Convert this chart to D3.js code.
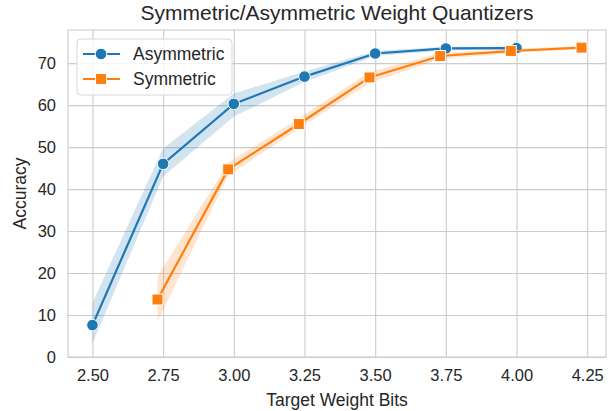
<!DOCTYPE html>
<html lang="en">
<head>
<meta charset="UTF-8">
<title>Symmetric/Asymmetric Weight Quantizers</title>
<style>
  body { margin: 0; background: #fff; }
  svg { font-family: "Liberation Sans", Arial, sans-serif; }
  .tick text { fill: #262626; font-size: 16.5px; }
</style>
</head>
<body>
<svg height="411" width="613"></svg>

<script src="https://cdn.jsdelivr.net/npm/d3@7"></script>
<script>

// data
var asymBits = [2.50, 2.75, 3.00, 3.25, 3.50, 3.75, 4.00];
var asymAcc  = [7.6, 46.0, 60.3, 66.8, 72.3, 73.5, 73.6];
var asymLow  = [3.2, 43.0, 57.3, 65.5, 71.7, 73.1, 73.2];
var asymHigh = [12.9, 49.7, 62.8, 68.0, 72.9, 73.9, 74.0];

var symBits = [2.73, 2.98, 3.23, 3.48, 3.73, 3.98, 4.23];
var symAcc  = [13.7, 44.7, 55.5, 66.6, 71.7, 72.9, 73.7];
var symLow  = [8.4, 43.2, 54.4, 65.2, 71.0, 72.4, 73.3];
var symHigh = [19.1, 46.3, 56.9, 67.9, 72.4, 73.4, 74.1];

var xTicks = [2.50, 2.75, 3.00, 3.25, 3.50, 3.75, 4.00, 4.25];
var yTicks = [0, 10, 20, 30, 40, 50, 60, 70];

var series = [
    {name: "Asymmetric", color: "#1f77b4", marker: "circle", x: asymBits, y: asymAcc, lo: asymLow, hi: asymHigh},
    {name: "Symmetric", color: "#ff7f0e", marker: "square", x: symBits, y: symAcc, lo: symLow, hi: symHigh}
];

var svg = d3.select("svg"),
    margin = {top: 30, right: 7, bottom: 54, left: 68};

var width = +svg.attr("width") - margin.left - margin.right;
var height = +svg.attr("height") - margin.top - margin.bottom;

var bitsToX = d3.scaleLinear().domain([2.4135, 4.3165]).range([0, width]);
var accToY = d3.scaleLinear().domain([0, 77.9]).range([height, 0]);

var g = svg.append("g")
    .attr("transform", "translate(" + margin.left + "," + margin.top + ")");

// grid
g.append("g")
    .attr("class", "x grid")
    .attr("transform", "translate(0," + height + ")")
    .call(d3.axisBottom(bitsToX).tickValues(xTicks).tickSize(-height).tickFormat(d3.format(".2f")).tickPadding(12))
    .call(function(a) {
        a.select(".domain").remove();
        a.selectAll(".tick line").attr("stroke", "#cccccc").attr("stroke-width", 1.1);
    });

g.append("g")
    .attr("class", "y grid")
    .call(d3.axisLeft(accToY).tickValues(yTicks).tickSize(-width).tickPadding(12))
    .call(function(a) {
        a.select(".domain").remove();
        a.selectAll(".tick line").attr("stroke", "#cccccc").attr("stroke-width", 1.1);
    });

// frame
g.append("rect")
    .attr("width", width)
    .attr("height", height)
    .attr("fill", "none")
    .attr("stroke", "#cccccc")
    .attr("stroke-width", 1.1);

var band = d3.area()
    .x(function(d) { return bitsToX(d.x); })
    .y0(function(d) { return accToY(d.lo); })
    .y1(function(d) { return accToY(d.hi); });

var line = d3.line()
    .x(function(d) { return bitsToX(d.x); })
    .y(function(d) { return accToY(d.y); });

function points(s) {
    return s.x.map(function(x, i) {
        return {x: x, y: s.y[i], lo: s.lo[i], hi: s.hi[i]};
    });
}

series.forEach(function(s) {
    var pts = points(s);
    g.append("path")
        .datum(pts)
        .attr("d", band)
        .attr("fill", s.color)
        .attr("fill-opacity", 0.2);
});

series.forEach(function(s) {
    var pts = points(s);
    g.append("path")
        .datum(pts)
        .attr("d", line)
        .attr("fill", "none")
        .attr("stroke", s.color)
        .attr("stroke-width", 2.2);

    var sym = s.marker == "circle" ? d3.symbolCircle : d3.symbolSquare;
    var size = s.marker == "circle" ? 105 : 120;
    g.selectAll(".m-" + s.marker)
        .data(pts)
        .enter()
        .append("path")
        .attr("class", "m-" + s.marker)
        .attr("transform", function(d) { return "translate(" + bitsToX(d.x) + "," + accToY(d.y) + ")"; })
        .attr("d", d3.symbol().type(sym).size(size))
        .attr("fill", s.color)
        .attr("stroke", "#fff")
        .attr("stroke-width", 1);
});

// legend
var legend = g.append("g").attr("transform", "translate(9,9)");
legend.append("rect")
    .attr("width", 155)
    .attr("height", 56)
    .attr("rx", 4)
    .attr("fill", "#fff")
    .attr("fill-opacity", 0.8)
    .attr("stroke", "#d6d6d6")
    .attr("stroke-width", 1);

series.forEach(function(s, i) {
    var row = legend.append("g").attr("transform", "translate(0," + (15 + i * 25) + ")");
    row.append("line")
        .attr("x1", 6).attr("x2", 43)
        .attr("stroke", s.color)
        .attr("stroke-width", 2.2);
    var sym = s.marker == "circle" ? d3.symbolCircle : d3.symbolSquare;
    row.append("path")
        .attr("transform", "translate(24,0)")
        .attr("d", d3.symbol().type(sym).size(s.marker == "circle" ? 105 : 120))
        .attr("fill", s.color)
        .attr("stroke", "#fff")
        .attr("stroke-width", 1);
    row.append("text")
        .attr("x", 56)
        .attr("dy", "0.35em")
        .attr("fill", "#262626")
        .style("font-size", "17.5px")
        .text(s.name);
});

// labels
svg.append("text")
    .attr("x", margin.left + width / 2)
    .attr("y", 20)
    .attr("text-anchor", "middle")
    .attr("fill", "#262626")
    .style("font-size", "21px")
    .text("Symmetric/Asymmetric Weight Quantizers");

svg.append("text")
    .attr("x", margin.left + width / 2)
    .attr("y", 406)
    .attr("text-anchor", "middle")
    .attr("fill", "#262626")
    .style("font-size", "17.5px")
    .text("Target Weight Bits");

svg.append("text")
    .attr("transform", "rotate(-90)")
    .attr("x", -(margin.top + height / 2))
    .attr("y", 26)
    .attr("text-anchor", "middle")
    .attr("fill", "#262626")
    .style("font-size", "17.5px")
    .text("Accuracy");
</script>
</body>
</html>
